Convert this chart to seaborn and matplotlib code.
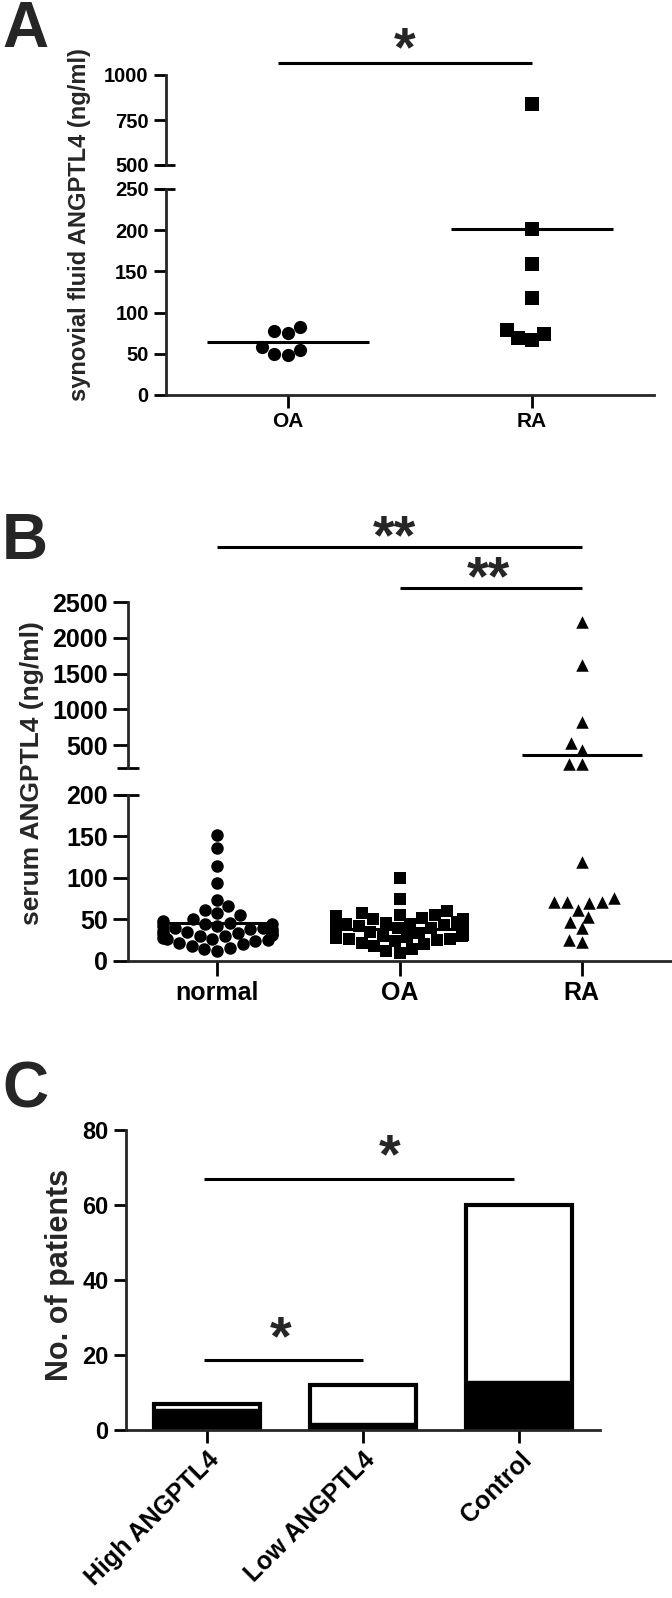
import matplotlib
matplotlib.use('Agg')
import numpy as np
import pandas as pd
import matplotlib.pyplot as plt
import seaborn as sns

# Panel A: synovial fluid ANGPTL4 (ng/ml)
a_groups = ['OA', 'RA']
a_oa = [78, 75, 82, 55, 48, 50, 58]
a_ra = [841, 201, 159, 118, 74, 67, 69, 79]

# Panel B: serum ANGPTL4 (ng/ml)
b_groups = ['normal', 'OA', 'RA']
b_normal = [152, 136, 114, 94, 74, 66, 62, 58, 55, 50, 48, 46, 45, 44, 42, 42, 40, 40, 38, 38,
            36, 36, 35, 34, 33, 32, 31, 30, 30, 28, 27, 26, 25, 24, 22, 20, 18, 16, 14, 12]
b_oa = [100, 75, 60, 58, 56, 55, 54, 52, 50, 50, 48, 47, 46, 45, 44, 43, 42, 40, 40, 38, 38,
        37, 36, 35, 34, 33, 32, 31, 30, 30, 29, 28, 27, 26, 25, 24, 22, 20, 18, 15, 12, 10]
b_ra = [2224, 1618, 824, 530, 427, 235, 230, 119, 76, 71, 71, 71, 70, 62, 53, 47, 40, 25, 23]

# Panel C: No. of patients
c_groups = ['High ANGPTL4', 'Low ANGPTL4', 'Control']
c_total = [7, 12, 60]
c_black = [5.5, 2, 13]

W, H = 672, 1598
sns.set_style('ticks')
plt.rcParams['font.family'] = ['Liberation Sans', 'DejaVu Sans']
plt.rcParams['font.weight'] = 'bold'
plt.rcParams['axes.labelweight'] = 'bold'

fig = plt.figure(figsize=(W / 100, H / 100), dpi=100)


def add_ax(l, t, r, b):
    return fig.add_axes([l / W, 1 - b / H, (r - l) / W, (b - t) / H])


def style(ax, ticklen, fs, upper=False):
    ax.set_facecolor('none')
    for s in ['top', 'right']:
        ax.spines[s].set_visible(False)
    ax.spines['left'].set_linewidth(2)
    ax.spines['bottom'].set_linewidth(2)
    ax.tick_params(width=2, length=ticklen, labelsize=fs, color='black', labelcolor='black')
    ax.set_xlabel('')
    ax.set_ylabel('')
    if upper:
        ax.spines['bottom'].set_visible(False)
        ax.tick_params(axis='x', bottom=False, labelbottom=False)


def stub(ax, y, frac):
    ax.plot([-frac, frac], [y, y], transform=ax.get_yaxis_transform(), color='black',
            lw=2, clip_on=False, solid_capstyle='butt')


def swarm(ax, group, vals, order, marker, size, width=None):
    if len(vals) == 0:
        return
    n_before = len(ax.collections)
    sns.swarmplot(x=[group] * len(vals), y=vals, order=order, color='black', marker=marker,
                  size=size, warn_thresh=1, ax=ax, clip_on=False, linewidth=0)
    if width is None:
        return
    # swarmplot has no width option in 0.13, so narrow its Beeswarm object directly
    for coll in ax.collections[n_before:]:
        f = getattr(coll.draw, '__func__', None)
        if f is None or not f.__closure__:
            continue
        for cell in f.__closure__:
            try:
                obj = cell.cell_contents
            except ValueError:
                continue
            if type(obj).__name__ == 'Beeswarm':
                obj.width = width


def mean_line(ax, i, m):
    ax.hlines(m, i - 0.33, i + 0.33, color='black', lw=2.2, clip_on=False)


def sig(ax, x0, x1, y, ty, tx, text, fs):
    ax.plot([x0, x1], [y, y], color='black', lw=2.2, clip_on=False, solid_capstyle='butt')
    ax.text(tx, ty, text, ha='center', va='center', fontsize=fs, fontweight='bold', clip_on=False)


# ---------------- Panel A ----------------
axA_up = add_ax(166, 75, 654, 165)
axA_lo = add_ax(166, 189, 654, 395)
markers_a = ['o', 's']
for i, (g, vals) in enumerate(zip(a_groups, [a_oa, a_ra])):
    up = [v for v in vals if v >= 500]
    lo = [v for v in vals if v < 500]
    swarm(axA_up, g, up, a_groups, markers_a[i], 9.5)
    swarm(axA_lo, g, lo, a_groups, markers_a[i], 9.5)
    m = np.mean(vals)
    mean_line(axA_up if m >= 500 else axA_lo, i, m)
for ax in [axA_up, axA_lo]:
    ax.set_xlim(-0.5, 1.5)
axA_up.set_ylim(500, 1000)
axA_up.set_yticks([500, 750, 1000])
axA_lo.set_ylim(0, 250)
axA_lo.set_yticks([0, 50, 100, 150, 200, 250])
style(axA_up, 9, 14.5, upper=True)
style(axA_lo, 9, 14.5)
axA_lo.set_xticks([0, 1])
axA_lo.set_xticklabels(a_groups, fontsize=15)
stub(axA_up, 500, 9 / 488)
stub(axA_lo, 250, 9 / 488)
sig(axA_up, -0.04, 1.0, 1067, 1130, 0.48, '*', 40)
fig.text(80 / W, 1 - 225 / H, 'synovial fluid ANGPTL4 (ng/ml)', rotation=90,
         ha='center', va='center', fontsize=17, fontweight='bold')
fig.text(2 / W, 1 - 0 / H, 'A', ha='left', va='top', fontsize=46, fontweight='bold')

# ---------------- Panel B ----------------
axB_up = add_ax(128, 602, 671, 768)
axB_lo = add_ax(128, 795, 671, 961)
markers_b = ['o', 's', '^']
widths_b = [0.6, 0.7, None]
for i, (g, vals) in enumerate(zip(b_groups, [b_normal, b_oa, b_ra])):
    up = [v for v in vals if v >= 200]
    lo = [v for v in vals if v < 200]
    swarm(axB_up, g, up, b_groups, markers_b[i], 9, widths_b[i])
    swarm(axB_lo, g, lo, b_groups, markers_b[i], 9, widths_b[i])
    m = np.mean(vals)
    mean_line(axB_up if m >= 200 else axB_lo, i, m)
for ax in [axB_up, axB_lo]:
    ax.set_xlim(-0.49, 2.49)
axB_up.set_ylim(180, 2500)
axB_up.set_yticks([500, 1000, 1500, 2000, 2500])
axB_lo.set_ylim(0, 200)
axB_lo.set_yticks([0, 50, 100, 150, 200])
style(axB_up, 11, 18, upper=True)
style(axB_lo, 11, 18)
axB_lo.set_xticks([0, 1, 2])
axB_lo.set_xticklabels(b_groups, fontsize=18)
stub(axB_up, 180, 11 / 543)
stub(axB_lo, 200, 11 / 543)
sig(axB_up, 0, 2, 3269, 3370, 0.97, '**', 40)
sig(axB_up, 1, 2, 2696, 2797, 1.49, '**', 40)
fig.text(32 / W, 1 - 773 / H, 'serum ANGPTL4 (ng/ml)', rotation=90,
         ha='center', va='center', fontsize=19, fontweight='bold')
fig.text(2 / W, 1 - 512 / H, 'B', ha='left', va='top', fontsize=46, fontweight='bold')

# ---------------- Panel C ----------------
axC = add_ax(126, 1130, 600, 1430)
dfc = pd.DataFrame({'group': c_groups, 'total': c_total, 'black': c_black})
sns.barplot(data=dfc, x='group', y='total', order=c_groups, color='white', edgecolor='black',
            linewidth=3, width=0.68, ax=axC)
sns.barplot(data=dfc, x='group', y='black', order=c_groups, color='black', edgecolor='black',
            linewidth=1, width=0.68, ax=axC)
axC.set_xlim(-0.52, 2.52)
axC.set_ylim(0, 80)
axC.set_yticks([0, 20, 40, 60, 80])
style(axC, 9, 17)
axC.set_xticks([0, 1, 2])
axC.set_xticklabels(c_groups, rotation=45, ha='right', rotation_mode='anchor', fontsize=18)
sig(axC, -0.02, 1.97, 66.9, 72.5, 1.17, '*', 40)
sig(axC, -0.02, 1.0, 18.6, 23.8, 0.47, '*', 40)
fig.text(60 / W, 1 - 1275 / H, 'No. of patients', rotation=90,
         ha='center', va='center', fontsize=22, fontweight='bold')
fig.text(2 / W, 1 - 1060 / H, 'C', ha='left', va='top', fontsize=46, fontweight='bold')

fig.savefig('out.png', dpi=100, facecolor='white')
